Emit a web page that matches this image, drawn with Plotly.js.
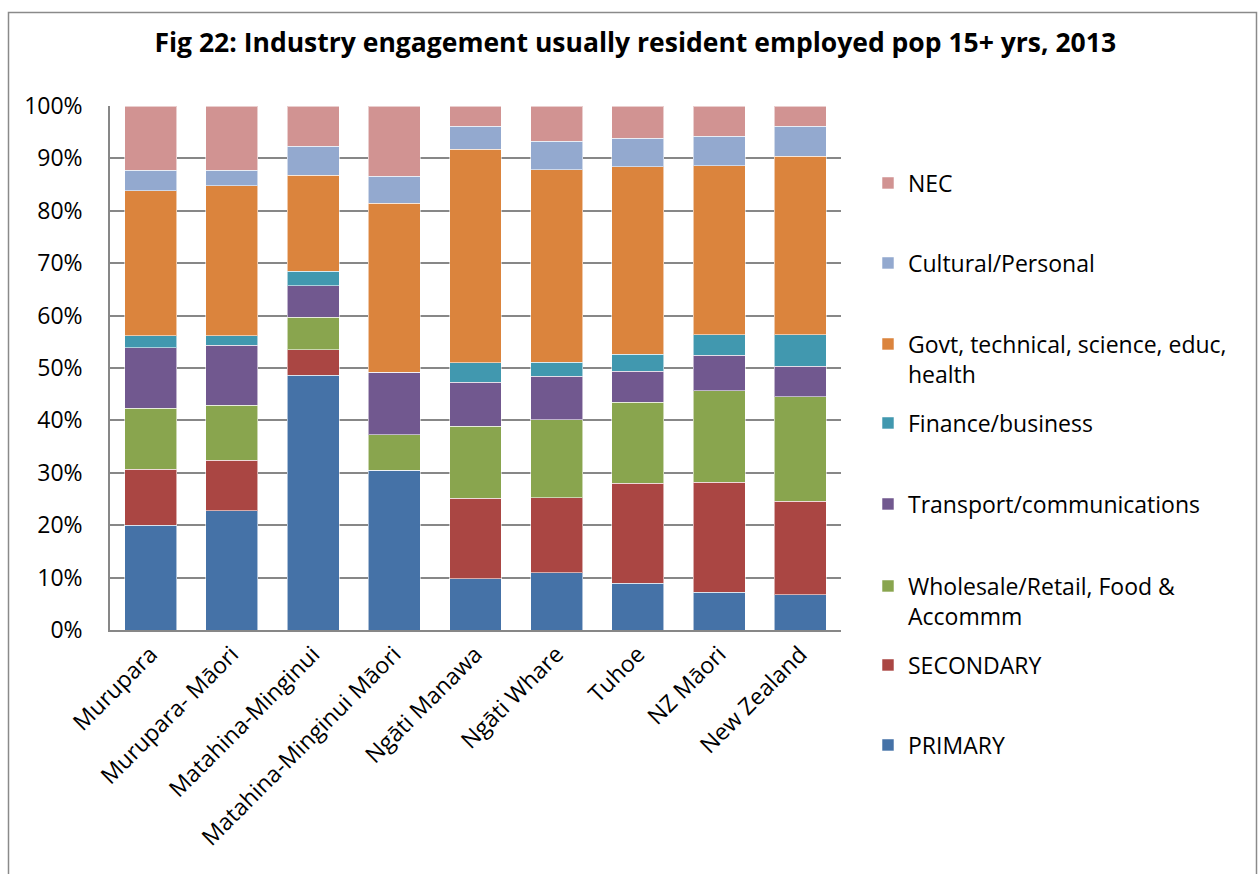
<!DOCTYPE html>
<html>
<head>
<meta charset="utf-8">
<script src="https://cdn.plot.ly/plotly-3.0.1.min.js"></script>
<style>html,body{margin:0;padding:0;background:#fff;}#chart{width:1258px;height:874px;}</style>
</head>
<body>
<div id="chart"></div>
<script>
// Categories (x axis)
const categories = ["Murupara", "Murupara- Māori", "Matahina-Minginui", "Matahina-Minginui Māori", "Ngāti Manawa", "Ngāti Whare", "Tuhoe", "NZ Māori", "New Zealand"];

// Series values (% of usually resident employed pop 15+)
const primary    = [20.0, 22.8, 48.6, 30.5,  9.8, 10.9,  8.9,  7.2,  6.7];
const secondary  = [10.7,  9.6,  4.9,  0.0, 15.3, 14.3, 19.1, 21.0, 17.9];
const wholesale  = [11.6, 10.5,  6.2,  6.8, 13.8, 14.9, 15.5, 17.5, 19.9];
const transport  = [11.6, 11.4,  6.0, 11.9,  8.4,  8.3,  5.9,  6.7,  5.8];
const finance    = [ 2.3,  1.9,  2.8,  0.0,  3.7,  2.7,  3.2,  3.9,  6.0];
const govt       = [27.6, 28.6, 18.3, 32.2, 40.7, 36.7, 35.8, 32.3, 34.1];
const cultural   = [ 3.9,  2.9,  5.5,  5.2,  4.4,  5.5,  5.4,  5.6,  5.7];
const nec        = [12.3, 12.3,  7.7, 13.4,  3.9,  6.7,  6.2,  5.8,  3.9];

// Series names
const seriesNames = ["PRIMARY", "SECONDARY", "Wholesale/Retail, Food &<br>Accommm", "Transport/communications", "Finance/business", "Govt, technical, science, educ,<br>health", "Cultural/Personal", "NEC"];
const seriesValues = [primary, secondary, wholesale, transport, finance, govt, cultural, nec];
const seriesColors = ["#4572A7", "#AA4643", "#89A54E", "#71588F", "#4198AF", "#DB843D", "#93A9CF", "#D19392"];

// Y tick values / labels
const yTickVals = [0, 10, 20, 30, 40, 50, 60, 70, 80, 90, 100];
const yTickText = ["0%", "10%", "20%", "30%", "40%", "50%", "60%", "70%", "80%", "90%", "100%"];

const FONT = "Open Sans, Noto Sans, sans-serif";

// geometry helpers (pixels -> paper)
const W = 1258, H = 874;
const M = {l: 110, r: 417, t: 106, b: 244};
const pw = W - M.l - M.r, ph = H - M.t - M.b;
const px2x = p => (p - M.l) / pw;
const py2y = p => (H - M.b - p) / ph;

// legend centre positions (pixel y) for each series, in trace order
const legendY = [745, 665, 601, 504, 423, 359, 263, 183];
// legend ids: top item (NEC) uses the main legend
const legendIds = ["legend8", "legend7", "legend6", "legend5", "legend4", "legend3", "legend2", "legend"];

const traces = seriesValues.map((vals, i) => ({
  type: "bar",
  name: seriesNames[i],
  x: categories,
  y: vals,
  marker: {color: seriesColors[i], line: {color: "rgba(255,255,255,0.55)", width: 1}},
  legend: legendIds[i],
  hovertemplate: "%{x}<br>" + seriesNames[i].replace("<br>", " ") + ": %{y:.1f}%<extra></extra>"
}));

const layout = {
  width: W, height: H,
  margin: M,
  paper_bgcolor: "#ffffff",
  plot_bgcolor: "#ffffff",
  barmode: "stack",
  bargap: 0.36,
  showlegend: true,
  font: {family: FONT, size: 22, color: "#000"},
  title: {
    text: "<b>Fig 22: Industry engagement usually resident employed pop 15+ yrs, 2013</b>",
    font: {family: FONT, size: 26.5, color: "#000"},
    x: 0.505, xref: "container", xanchor: "center",
    y: 0.951, yref: "container", yanchor: "middle"
  },
  xaxis: {
    type: "category",
    tickangle: -45,
    tickfont: {family: FONT, size: 23, color: "#000"},
    showline: true, linecolor: "#878787", linewidth: 1.5,
    showgrid: false, ticks: "", automargin: false
  },
  yaxis: {
    range: [0, 100],
    tickvals: yTickVals, ticktext: yTickText,
    tickfont: {family: FONT, size: 23, color: "#000"},
    showline: true, linecolor: "#878787", linewidth: 1.5,
    showgrid: true, gridcolor: "#878787", gridwidth: 1.5,
    zeroline: false, ticks: "", ticklabelstandoff: 21, automargin: false
  },
  shapes: [{
    type: "rect", xref: "paper", yref: "paper",
    x0: px2x(8.5), x1: px2x(1256.5), y0: py2y(885), y1: py2y(12.5),
    line: {color: "#8a8a8a", width: 1.5}, fillcolor: "rgba(0,0,0,0)", layer: "below"
  }]
};

legendY.forEach((py, i) => {
  layout[legendIds[i]] = {
    visible: true,
    x: px2x(868), xanchor: "left",
    y: py2y(py), yanchor: "middle",
    bgcolor: "rgba(0,0,0,0)", borderwidth: 0,
    font: {family: FONT, size: 23, color: "#000"},
    valign: "top", itemclick: false, itemdoubleclick: false
  };
});

Plotly.newPlot("chart", traces, layout, {displayModeBar: false});
</script>
</body>
</html>
